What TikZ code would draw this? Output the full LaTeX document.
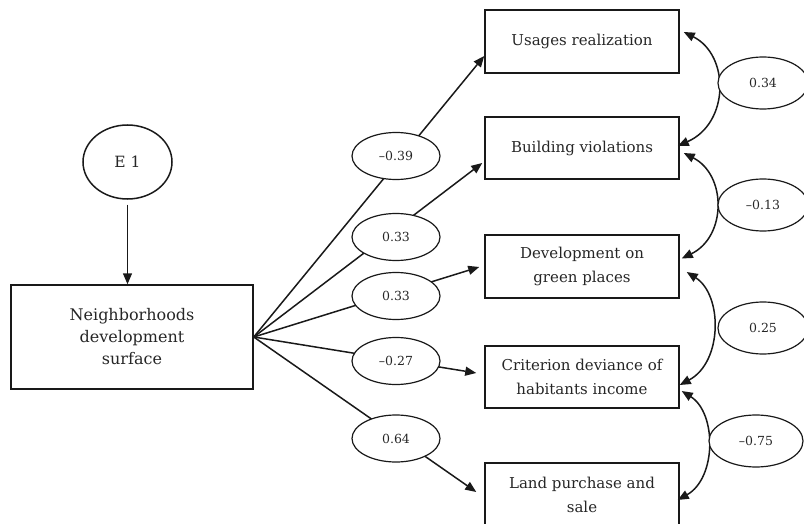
\documentclass[tikz,border=0pt]{standalone}
\usepackage{fontspec}
\setmainfont{DejaVu Serif}
\usetikzlibrary{shapes.geometric,arrows.meta,calc}
\begin{document}
\begin{tikzpicture}[x=1pt,y=-1pt,
  ink/.style={draw=black!90, line width=1.5pt},
  boxnode/.style={ink, rectangle, align=center, inner sep=2pt, text=black!85,
    font=\fontsize{15}{24}\selectfont},
  coef/.style={ink, line width=1.2pt, ellipse, fill=white, inner sep=0pt, text=black!85,
    font=\fontsize{12.5}{14}\selectfont, minimum width=88pt, minimum height=47pt},
  rcoef/.style={coef, minimum width=90pt, minimum height=52pt},
  arr/.style={ink, -{Triangle[length=11pt,width=9pt]}},
  dbl/.style={ink, {Triangle[length=11pt,width=9pt]}-{Triangle[length=11pt,width=9pt]}}
]
\useasboundingbox (0,0) rectangle (804,524);

% error term
\node[ink, ellipse, minimum width=89pt, minimum height=74pt, inner sep=0pt, text=black!85,
  font=\fontsize{15.5}{20}\selectfont] (e1) at (127.5,162) {E 1};

% source box
\node[boxnode, minimum width=242pt, minimum height=104pt, font=\fontsize{16}{22}\selectfont] (nds) at (132,337)
  {Neighborhoods\\development\\surface};

% indicator boxes
\node[boxnode, minimum width=194pt, minimum height=63pt] (use) at (582,41.5) {Usages realization};
\node[boxnode, minimum width=194pt, minimum height=62pt] (bld) at (582,148) {Building violations};
\node[boxnode, minimum width=194pt, minimum height=63pt] (dev) at (582,266.5) {Development on\\green places};
\node[boxnode, minimum width=194pt, minimum height=62pt] (cri) at (582,377) {Criterion deviance of\\habitants income};
\node[boxnode, minimum width=194pt, minimum height=64pt] (lnd) at (582,495) {Land purchase and\\sale};

% arrow from error term
\draw[arr] ([yshift=-5pt]e1.south) -- (e1.south |- nds.north);

% path arrows
\coordinate (tu) at ($(use.west)+(0,14.5)$);
\coordinate (tb) at ($(bld.west)+(-2,15)$);
\coordinate (td) at ($(dev.west)+(-5,0.5)$);
\coordinate (tc) at ($(cri.west)+(-8,-4)$);
\coordinate (tl) at ($(lnd.west)+(-8,-3)$);
\draw[arr] (nds.east) -- (tu);
\draw[arr] (nds.east) -- (tb);
\draw[arr] (nds.east) -- (td);
\draw[arr] (nds.east) -- (tc);
\draw[arr] (nds.east) -- (tl);

% path coefficients
\node[coef] (p1) at (396,156) {–0.39};
\node[coef] (p2) at (396,237) {0.33};
\node[coef] (p3) at (396,296) {0.33};
\node[coef] (p4) at (396,361) {–0.27};
\node[coef] (p5) at (396,438.5) {0.64};

% correlation arrows
\coordinate (a1) at ($(use.east)+(4,-9.5)$);
\coordinate (b1) at ($(bld.east)+(-2,-2)$);
\coordinate (a2) at ($(bld.east)+(4,5)$);
\coordinate (b2) at ($(dev.east)+(2,-8)$);
\coordinate (a3) at ($(dev.east)+(7,5.5)$);
\coordinate (b3) at ($(cri.east)+(0,8)$);
\coordinate (a4) at ($(cri.east)+(2,14)$);
\coordinate (b4) at ($(lnd.east)+(-2,5)$);
\draw[dbl] (a1) .. controls +(46,23) and +(52,-23) .. (b1);
\draw[dbl] (a2) .. controls +(43,22) and +(45,-22) .. (b2);
\draw[dbl] (a3) .. controls +(36,23) and +(43,-23) .. (b3);
\draw[dbl] (a4) .. controls +(35,22) and +(39,-22) .. (b4);

% correlation coefficients
\node[rcoef] (r1) at (763,83) {0.34};
\node[rcoef] (r2) at (763,205) {–0.13};
\node[rcoef] (r3) at (763,328) {0.25};
\node[rcoef, minimum width=94pt] (r4) at (756,441) {–0.75};
\end{tikzpicture}
\end{document}
